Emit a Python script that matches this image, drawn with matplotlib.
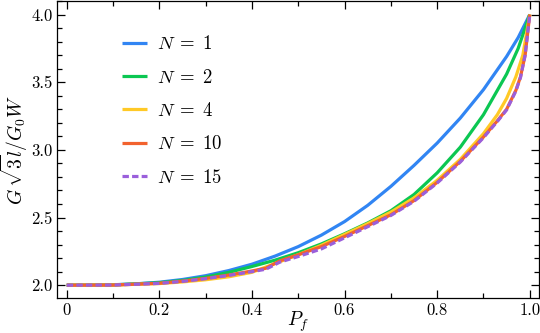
import matplotlib
matplotlib.use("Agg")
import matplotlib.pyplot as plt
from matplotlib.ticker import MultipleLocator, FixedLocator, FixedFormatter

plt.rcParams.update({
    "font.family": "serif",
    "font.serif": ["cmr10", "DejaVu Serif"],
    "mathtext.fontset": "cm",
    "axes.unicode_minus": False,
    "axes.formatter.use_mathtext": True,
})

# ---- Data ------------------------------------------------------------------
p_n1 = [0.0, 0.05, 0.1, 0.15, 0.2, 0.25, 0.3, 0.35, 0.4, 0.45, 0.5, 0.55, 0.6,
        0.65, 0.7, 0.75, 0.8, 0.85, 0.9, 0.95, 0.975, 1.0]
g_n1 = [2.000, 2.000, 2.003, 2.010, 2.022, 2.042, 2.070, 2.108, 2.155, 2.215,
        2.285, 2.370, 2.470, 2.590, 2.730, 2.885, 3.050, 3.235, 3.445, 3.690,
        3.830, 4.000]

p_n2 = [0.0, 0.1, 0.2, 0.25, 0.3, 0.35, 0.4, 0.45, 0.5, 0.55, 0.6, 0.65, 0.7,
        0.75, 0.8, 0.85, 0.9, 0.95, 0.975, 1.0]
g_n2 = [2.000, 2.002, 2.018, 2.035, 2.060, 2.095, 2.138, 2.185, 2.240, 2.305,
        2.380, 2.460, 2.550, 2.670, 2.830, 3.020, 3.260, 3.560, 3.750, 4.000]

p_n4 = [0.0, 0.1, 0.2, 0.25, 0.3, 0.35, 0.4, 0.45, 0.5, 0.55, 0.6, 0.65, 0.7,
        0.75, 0.8, 0.85, 0.9, 0.93, 0.95, 0.97, 0.985, 1.0]
g_n4 = [2.000, 2.001, 2.012, 2.024, 2.040, 2.062, 2.095, 2.160, 2.225, 2.295,
        2.375, 2.455, 2.540, 2.645, 2.775, 2.930, 3.120, 3.260, 3.380, 3.540,
        3.700, 4.000]

p_n10 = [0.0, 0.1, 0.2, 0.25, 0.3, 0.35, 0.4, 0.43, 0.46, 0.5, 0.55, 0.6, 0.65,
         0.7, 0.75, 0.8, 0.85, 0.9, 0.93, 0.95, 0.97, 0.98, 0.99, 1.0]
g_n10 = [2.000, 2.001, 2.014, 2.030, 2.050, 2.075, 2.105, 2.125, 2.180, 2.225,
         2.285, 2.360, 2.440, 2.520, 2.625, 2.760, 2.915, 3.095, 3.215, 3.300,
         3.440, 3.540, 3.700, 4.000]

p_n15 = [0.0, 0.1, 0.2, 0.25, 0.3, 0.35, 0.4, 0.43, 0.46, 0.5, 0.55, 0.6, 0.65,
         0.7, 0.75, 0.8, 0.85, 0.9, 0.93, 0.95, 0.97, 0.98, 0.99, 1.0]
g_n15 = [2.000, 2.001, 2.013, 2.028, 2.048, 2.072, 2.100, 2.118, 2.170, 2.212,
         2.268, 2.350, 2.432, 2.515, 2.620, 2.755, 2.910, 3.090, 3.210, 3.295,
         3.435, 3.535, 3.700, 4.000]

labels = [r"$N\;=\;1$", r"$N\;=\;2$", r"$N\;=\;4$", r"$N\;=\;10$", r"$N\;=\;15$"]
colors = ["#3185F3", "#0BC752", "#FFC926", "#F2622E", "#9A5FDB"]

x_ticks = [0.0, 0.2, 0.4, 0.6, 0.8, 1.0]
x_ticklabels = ["0", "0.2", "0.4", "0.6", "0.8", "1.0"]
y_ticks = [2.0, 2.5, 3.0, 3.5, 4.0]
y_ticklabels = ["2.0", "2.5", "3.0", "3.5", "4.0"]

# ---- Plot -------------------------------------------------------------------
fig = plt.figure(figsize=(5.4, 3.33), dpi=100)
ax = fig.add_axes([0.1056, 0.105, 0.8926, 0.892])

series = [(p_n1, g_n1), (p_n2, g_n2), (p_n4, g_n4), (p_n10, g_n10)]
for (p, g), lab, c in zip(series, labels[:4], colors[:4]):
    ax.plot(p, g, color=c, lw=2.3, label=lab, solid_capstyle="butt",
            solid_joinstyle="round")
ax.plot(p_n15, g_n15, color=colors[4], lw=2.3, ls=(0, (2, 1)), label=labels[4])

ax.set_xlim(-0.021, 1.02)
ax.set_ylim(1.905, 4.1)

ax.xaxis.set_major_locator(FixedLocator(x_ticks))
ax.xaxis.set_major_formatter(FixedFormatter(x_ticklabels))
ax.yaxis.set_major_locator(FixedLocator(y_ticks))
ax.yaxis.set_major_formatter(FixedFormatter(y_ticklabels))
ax.xaxis.set_minor_locator(MultipleLocator(0.1))
ax.yaxis.set_minor_locator(MultipleLocator(0.1))
ax.tick_params(which="both", direction="in", top=True, right=True,
               labelsize=12, width=0.9)
ax.tick_params(which="major", length=6, pad=3)
ax.tick_params(which="minor", length=3.5)
for s in ax.spines.values():
    s.set_linewidth(0.9)

ax.set_xlabel(r"$P_f$", fontsize=14, labelpad=-6)
ax.set_ylabel(r"$G\,\sqrt{3}l/G_0W$", fontsize=14, labelpad=1)

ax.legend(loc="upper left", bbox_to_anchor=(0.135, 0.885), frameon=False,
          fontsize=13.5, handlelength=1.35, handletextpad=0.5,
          labelspacing=0.82, borderpad=0, borderaxespad=0)

fig.savefig("out.png", dpi=100)
